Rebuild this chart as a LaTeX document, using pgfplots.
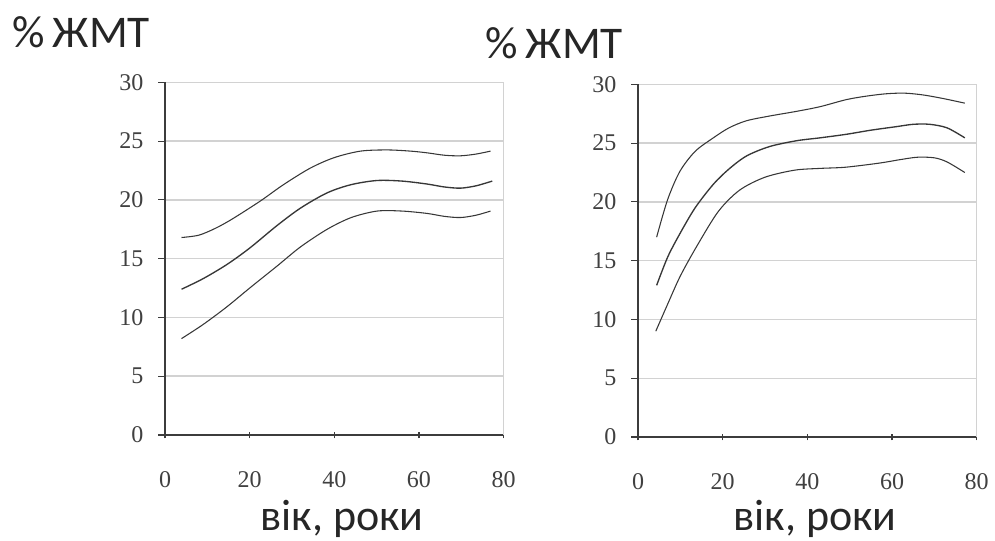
\documentclass[border=0pt]{standalone}
\usepackage{pgfplots}
\pgfplotsset{compat=1.18}
\usepackage{fontspec}
\setmainfont{Liberation Serif}
\newfontfamily\labfont{Carlito}
\definecolor{gridc}{RGB}{210,210,210}
\definecolor{axc}{RGB}{60,60,60}
\definecolor{curve}{RGB}{55,55,55}
\pgfplotsset{
  panel/.style={
    scale only axis, width=254pt, height=264.5pt,
    xmin=0, xmax=80, ymin=0, ymax=30,
    xtick={0,20,40,60,80}, ytick={0,5,10,15,20,25,30},
    axis x line*=bottom, axis y line*=left,
    axis line style={axc, line width=1.1pt},
    ymajorgrids, grid style={gridc, line width=1.1pt},
    major tick style={axc, line width=0.8pt},
    major tick length=5pt,
    xtick align=center, ytick align=outside,
    tick label style={font=\fontsize{18}{20}\selectfont, text=black!75, inner sep=0pt},
    yticklabel style={xshift=-11pt},
    xticklabel style={yshift=-25pt},
    /pgf/number format/assume math mode=true,
    clip=false,
  },
  cv/.style={curve, line width=0.8pt, smooth, no marks},
}
\begin{document}
\begin{tikzpicture}
\path[use as bounding box] (0,0) rectangle (746.25pt,-405pt);
\begin{axis}[panel, at={(123.75pt,-326.25pt)}, anchor=origin]
\draw[gridc, line width=0.8pt] (rel axis cs:1,0) -- (rel axis cs:1,1);
\addplot[cv] coordinates {(3.9,16.8) (8,17.0) (12,17.6) (16,18.4) (22.5,19.9) (28,21.3) (34.3,22.7) (40,23.6) (46.2,24.15) (52.5,24.25) (58,24.15) (62,24.0) (66,23.8) (69.8,23.75) (73.5,23.9) (76.9,24.15)};
\addplot[cv, line width=1pt] coordinates {(3.9,12.4) (9,13.3) (14.6,14.5) (20,15.9) (26.4,17.8) (32,19.3) (38.3,20.6) (44,21.3) (50.1,21.65) (56,21.6) (61.9,21.35) (66,21.1) (69.8,21.0) (73.5,21.2) (77.3,21.6)};
\addplot[cv] coordinates {(3.9,8.2) (9,9.4) (14.6,10.9) (20,12.5) (26.4,14.35) (32,16.0) (38.3,17.5) (44,18.5) (50.1,19.05) (56,19.05) (61.9,18.85) (66,18.6) (69.8,18.5) (73.5,18.7) (76.9,19.05)};
\end{axis}
\begin{axis}[panel, at={(478.5pt,-327.75pt)}, anchor=origin]
\draw[gridc, line width=0.8pt] (rel axis cs:1,0) -- (rel axis cs:1,1);
\addplot[cv] coordinates {(4.4,17.0) (7,20.2) (9.9,22.6) (13.5,24.3) (17.8,25.45) (21.5,26.3) (25.6,26.9) (31,27.3) (37.4,27.7) (43,28.1) (49.2,28.7) (54,29.0) (58.7,29.2) (63,29.25) (67.3,29.1) (72,28.8) (77.2,28.4)};
\addplot[cv, line width=1pt] coordinates {(4.4,12.9) (7,15.3) (9.9,17.3) (13.5,19.5) (17.8,21.5) (21.5,22.8) (25.6,23.9) (31,24.7) (37.4,25.2) (43,25.45) (49.2,25.75) (55,26.1) (61,26.4) (65,26.6) (68.9,26.6) (73,26.3) (77.2,25.45)};
\addplot[cv] coordinates {(4.2,9.0) (7,11.3) (10,13.7) (14,16.3) (19,19.2) (24,21.0) (30,22.1) (37,22.7) (43,22.85) (49,22.95) (57,23.3) (62,23.6) (66,23.8) (70,23.75) (73,23.4) (77.2,22.5)};
\end{axis}
\node[anchor=base west, inner sep=0pt, font=\labfont\fontsize{34}{36}\selectfont, text=black!85] at (9pt,-35.25pt) {\%\hspace{0.18em}ЖМТ};
\node[anchor=base west, inner sep=0pt, font=\labfont\fontsize{34}{36}\selectfont, text=black!85] at (363.75pt,-43.5pt) {\%\hspace{0.18em}ЖМТ};
\node[anchor=base, inner sep=0pt, font=\labfont\fontsize{33}{36}\selectfont, text=black!85] at (256.5pt,-397.5pt) {вік, роки};
\node[anchor=base, inner sep=0pt, font=\labfont\fontsize{33}{36}\selectfont, text=black!85] at (611.25pt,-397.5pt) {вік, роки};
\end{tikzpicture}
\end{document}
